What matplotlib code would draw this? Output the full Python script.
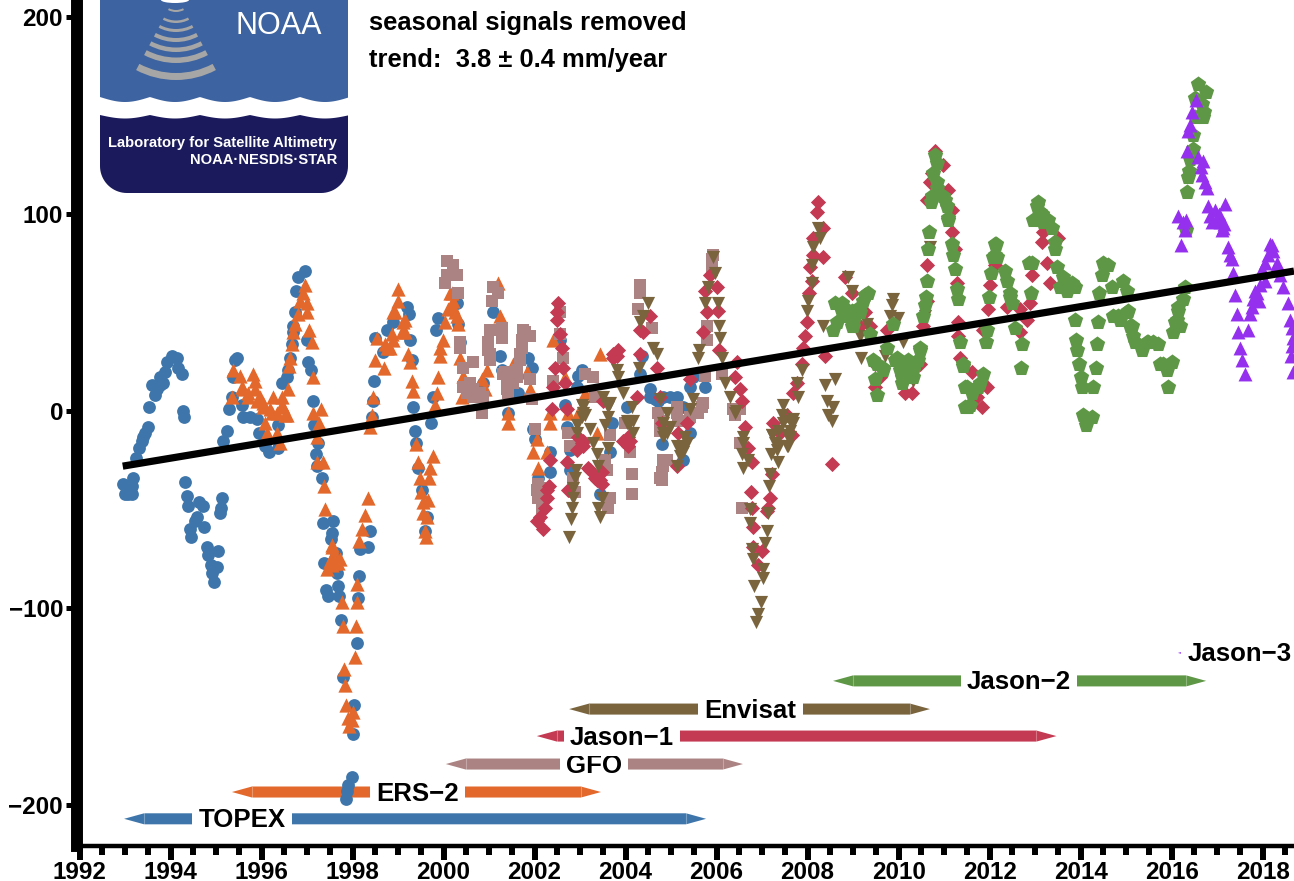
import numpy as np
import matplotlib
matplotlib.use('Agg')
import matplotlib.pyplot as plt
from matplotlib.patches import Polygon, Wedge, Ellipse

plt.rcParams['font.family'] = ['Liberation Sans', 'DejaVu Sans']
plt.rcParams['font.weight'] = 'bold'

# sea level series, year and mm
topex_x = [1992.96,1993.07,1993.00,1993.15,1993.15,1993.18,1993.24,1993.31,1993.37,1993.40,1993.44,1993.51,1993.53,1993.59,1993.66,1993.70,1993.77,1993.84,1993.77,1993.88,1993.92,1994.03,1994.14,1994.16,1994.25,1994.27,1994.30,1994.32,1994.36,1994.38,1994.63,1994.71,1994.58,1994.54,1994.43,1994.45,1994.74,1994.80,1995.04,1994.82,1994.89,1995.02,1994.91,1994.96,1995.09,1995.11,1995.13,1995.15,1995.24,1995.29,1995.35,1995.37,1995.42,1995.46,1995.57,1995.59,1995.75,1995.90,1995.95,1996.08,1996.16,1996.36,1996.36,1996.45,1996.56,1996.58,1996.63,1996.67,1996.69,1996.69,1996.74,1996.76,1996.80,1996.96,1997.00,1997.02,1997.09,1997.13,1997.15,1997.24,1997.20,1997.22,1997.33,1997.35,1997.57,1997.55,1997.53,1997.64,1997.37,1997.66,1997.42,1997.46,1997.68,1997.70,1997.75,1997.79,1998.03,1998.01,1997.99,1997.90,1997.88,1997.86,1998.10,1998.12,1998.14,1998.17,1998.34,1998.38,1998.43,1998.45,1998.47,1998.49,1998.67,1998.76,1998.89,1999.20,1999.24,1999.26,1999.31,1999.33,1999.37,1999.40,1999.44,1999.53,1999.64,1999.59,1999.73,1999.77,1999.84,1999.88,2000.30,2000.32,2000.36,2000.87,2001.02,2001.09,2001.24,2001.29,2001.42,2001.64,2001.86,2001.95,2001.97,2002.01,2002.08,2002.34,2002.34,2002.56,2002.67,2002.71,2002.78,2002.78,2002.93,2002.96,2003.04,2003.44,2003.66,2003.70,2004.03,2004.32,2004.36,2004.54,2004.65,2004.80,2004.98,2005.26,2005.26,2005.42,2005.42,2005.48,2005.75,2004.54,2004.71,2004.82,2005.13]
topex_y = [-37,-42,-42,-42,-38,-34,-24,-19,-15,-13,-11,-8,2,13,8,11,13,14,17,20,25,28,27,22,19,0,-3,-36,-43,-48,-46,-48,-54,-56,-60,-64,-59,-69,-71,-73,-78,-79,-82,-87,-52,-49,-44,-15,-10,1,7,17,26,27,3,-3,-3,-4,-11,-18,-21,-19,-7,14,17,21,27,34,40,43,50,61,68,71,36,25,21,5,-7,-16,-22,-28,-34,-57,-56,-62,-65,-72,-77,-82,-91,-94,-89,-94,-106,-135,-149,-164,-186,-190,-193,-197,-118,-95,-84,-70,-69,-61,-3,5,15,37,30,41,45,53,49,36,26,2,-10,-16,-29,-40,-54,-61,-6,7,41,47,55,44,35,14,41,50,28,21,-1,9,27,22,-9,-14,-34,-21,-31,36,3,-8,-20,-30,12,18,21,-42,-21,-6,2,19,28,11,6,-17,7,2,-25,-11,12,17,12,7,5,7,7]

ers2_x = [1995.35,1995.37,1995.53,1995.57,1995.81,1995.86,1995.70,1995.86,1995.97,1996.03,1996.23,1996.25,1996.45,1996.58,1996.47,1996.56,1996.08,1996.12,1996.34,1996.41,1996.60,1996.67,1996.63,1996.69,1996.80,1996.74,1996.85,1996.91,1996.96,1997.00,1997.00,1997.04,1997.11,1997.13,1997.13,1997.31,1997.26,1997.22,1997.22,1997.35,1997.37,1997.40,1997.55,1997.55,1997.62,1997.55,1997.44,1997.68,1997.77,1997.79,1997.81,1997.84,1997.86,1997.90,1997.92,1997.99,1998.01,1998.05,1998.08,1998.10,1998.10,1998.14,1998.21,1998.27,1998.34,1998.38,1998.43,1998.45,1998.49,1998.54,1998.69,1998.71,1998.82,1998.87,1998.89,1999.00,1999.00,1999.11,1999.15,1999.22,1999.26,1999.31,1999.33,1999.40,1999.44,1999.48,1999.51,1999.55,1999.55,1999.59,1999.62,1999.64,1999.66,1999.68,1999.70,1999.77,1999.81,1999.86,1999.88,1999.92,1999.92,1999.99,2000.03,2000.10,2000.14,2000.21,2000.25,2000.32,2000.36,2000.43,2000.41,2000.85,2000.91,2000.96,2001.20,2001.24,2001.42,2001.42,2001.53,2001.84,2001.90,2001.97,2002.05,2002.08,2002.27,2002.34,2002.34,2002.41,2002.67,2002.74,2002.96,2003.11,2003.37,2003.44,1995.59,1995.70,1995.90,1996.03,1996.19,1996.34,1996.52,1996.45,1998.76,1998.89,1999.09,1999.15,1998.93,2000.21,2000.30,2000.19,1997.57,1997.51,1997.62,1997.73]
ers2_y = [7,21,18,12,19,15,7,11,7,2,-1,7,7,11,2,-2,-6,-11,-11,-16,23,34,27,40,49,44,56,60,64,55,50,41,35,17,-1,1,-6,-13,-26,-26,-38,-50,-68,-69,-73,-78,-80,-77,-97,-109,-131,-139,-149,-156,-160,-157,-153,-125,-109,-97,-88,-66,-60,-53,-44,-8,-2,7,26,37,22,34,32,39,50,56,62,45,40,29,25,15,10,-17,-26,-34,-41,-46,-52,-61,-64,-54,-45,-34,-29,-23,3,9,17,28,32,36,45,52,60,56,50,44,27,18,7,16,11,21,65,48,-1,-6,24,20,11,-21,-14,-29,-21,-1,-6,36,17,-1,-1,9,-11,29,11,9,5,4,1,-1,-2,3,32,36,40,46,50,53,48,60,-73,-76,-77,-75]

gfo_x = [2000.08,2000.08,2000.03,2000.21,2000.30,2000.32,2000.36,2000.43,2000.47,2000.52,2000.58,2000.65,2000.65,2000.80,2000.85,2000.98,2001.02,2001.02,2001.07,2001.09,2001.20,2001.29,2001.29,2001.35,2001.40,2001.42,2001.62,2001.68,2001.73,2001.75,2001.90,2001.90,2001.95,2002.01,2002.12,2002.08,2002.16,2002.41,2002.56,2002.56,2002.63,2002.74,2002.78,2002.85,2002.89,2003.11,2003.29,2003.33,2003.55,2003.59,2003.62,2003.66,2003.66,2003.99,2004.10,2004.14,2004.14,2004.27,2004.32,2004.32,2004.58,2004.71,2004.76,2004.80,2004.80,2004.91,2005.13,2005.15,2005.59,2005.68,2005.75,2005.79,2005.79,2005.90,2005.90,2005.92,2006.12,2006.36,2006.41,2006.52,2006.52,2006.56,2000.43,2000.54,2000.65,2000.76,2000.87,2001.31,2001.46,2001.53,2001.40,2001.62,2001.68,2001.73,2001.79,2000.98,2001.02,2000.36,2002.05,2002.08,2005.13,2005.57,2005.42,2005.70,2004.82,2004.76,2004.82,2004.76]
gfo_y = [76,69,65,74,69,60,35,22,12,9,14,25,7,9,-1,31,26,41,56,63,60,42,37,20,14,9,17,29,36,41,38,16,6,-9,-39,-44,-49,15,50,39,27,-11,-18,-34,-41,19,17,7,-25,-30,-49,-12,-44,-6,-21,-32,-42,52,64,60,42,-1,-10,-31,-35,-25,2,-5,-1,2,18,36,43,73,77,79,19,1,-2,-16,1,-49,12,9,11,7,7,19,17,14,11,21,26,32,40,35,29,32,-40,-37,-1,-1,-3,4,-28,-34,-25,-5]

jason1_x = [2002.05,2002.12,2002.19,2002.27,2002.32,2002.34,2002.38,2002.41,2002.45,2002.49,2002.52,2002.60,2002.63,2002.67,2002.71,2002.71,2002.74,2003.04,2003.07,2003.18,2003.33,2003.44,2003.48,2003.51,2003.73,2003.81,2004.03,2004.05,2004.25,2004.32,2004.32,2004.38,2004.54,2004.69,2004.76,2004.80,2005.13,2005.15,2005.35,2005.42,2005.70,2005.75,2005.79,2005.86,2006.01,2006.03,2006.05,2006.41,2006.45,2006.52,2006.56,2006.63,2006.69,2006.78,2006.76,2006.78,2006.80,2006.80,2006.91,2007.00,2007.11,2007.13,2007.18,2007.22,2007.24,2007.40,2007.55,2007.66,2007.68,2007.77,2007.88,2007.90,2007.95,2007.99,2008.03,2008.05,2008.10,2008.12,2008.12,2008.21,2008.23,2008.34,2008.34,2008.38,2008.54,2008.82,2008.98,2009.16,2009.26,2009.37,2009.48,2009.48,2009.59,2009.75,2010.14,2010.30,2010.47,2010.54,2010.63,2010.63,2010.63,2010.69,2010.74,2010.80,2010.98,2011.09,2011.17,2011.17,2011.24,2011.29,2011.31,2011.31,2011.35,2011.62,2011.73,2011.84,2011.95,2011.86,2011.97,2012.01,2012.12,2012.38,2012.67,2012.67,2012.82,2012.89,2012.93,2013.15,2013.18,2013.26,2013.33,2013.51,2003.73,2003.84,2003.95,2004.10,2004.05,2003.22,2003.37,2003.48,2002.96,2003.07,2002.93,2002.49,2002.56,2002.23,2002.27]
jason1_y = [-56,-54,-60,-44,-38,-25,1,12,22,46,55,32,22,14,1,-26,-40,-16,-18,-29,-34,-35,-31,5,29,28,-17,-13,7,41,29,40,48,22,7,-6,-28,-11,-6,16,40,61,50,69,63,51,31,17,25,11,5,-8,-19,-26,-41,-49,-59,-69,-78,-71,-51,-49,-44,-32,-6,-11,-2,-12,9,14,24,32,38,45,60,73,66,79,88,101,106,93,78,28,-27,68,60,43,50,43,24,12,17,41,9,9,24,43,56,74,107,116,121,132,125,112,102,91,82,65,45,38,27,20,7,2,12,41,52,64,74,53,52,40,46,55,69,86,91,75,65,88,27,31,-15,-15,-18,-30,-35,-37,-13,-15,-20,50,39,-49,-40]

envisat_x = [2002.76,2002.80,2002.82,2002.85,2002.85,2002.89,2002.91,2002.93,2002.93,2003.04,2003.11,2003.22,2003.29,2003.37,2003.40,2003.40,2003.44,2003.48,2003.51,2003.55,2003.62,2003.62,2003.66,2003.81,2003.84,2003.95,2004.03,2004.14,2004.16,2004.30,2004.32,2004.38,2004.49,2004.60,2004.69,2004.76,2004.82,2004.91,2004.91,2005.13,2005.20,2005.26,2005.31,2005.42,2005.48,2005.59,2005.62,2005.75,2005.81,2005.92,2005.97,2006.03,2006.05,2006.08,2006.12,2006.19,2006.30,2006.41,2006.43,2006.58,2006.56,2006.69,2006.58,2006.74,2006.74,2006.78,2006.80,2006.82,2006.87,2006.91,2006.98,2007.02,2007.02,2007.07,2007.11,2007.13,2007.15,2007.18,2007.20,2007.22,2007.33,2007.35,2007.44,2007.46,2007.55,2007.62,2007.62,2007.68,2007.77,2007.79,2007.88,2007.99,2008.01,2008.10,2008.10,2008.12,2008.23,2008.27,2008.34,2008.38,2008.43,2008.45,2008.54,2008.56,2008.60,2008.89,2008.98,2009.16,2009.18,2009.31,2009.71,2009.82,2009.86,2009.88,2009.99,2010.10,2010.32,2010.58,2010.69,2007.22,2007.35,2007.55,2007.46,2007.68,2007.62,2007.35,2007.29,2007.57,2006.58,2003.07,2004.82,2005.13,2005.20,2005.35,2005.26,2004.98,2004.82,2004.10,2004.16,2004.03,2003.62,2003.07,2003.04]
envisat_y = [-64,-55,-49,-44,-39,-34,-30,-11,-7,3,-2,-9,-16,-22,-28,-49,-54,-44,7,-7,-3,-19,4,21,17,9,-6,2,-11,22,45,48,55,32,29,6,-11,-1,-11,-28,-20,-21,-13,1,6,27,31,55,63,78,70,55,43,37,27,14,7,-1,0,-13,-22,-25,-29,-50,-57,-70,-75,-89,-107,-103,-97,-85,-80,-67,-61,-52,-38,-32,-22,-12,-20,-26,-2,3,-18,-5,-13,-4,14,7,21,51,56,65,74,83,93,88,43,13,5,-2,-5,2,16,68,61,38,27,44,28,48,54,57,47,35,15,48,83,-12,-10,-12,-6,-6,-10,-18,-16,-18,-16,-1,-6,-18,-23,-16,-18,-8,-13,-6,-5,-5,2,2,-3]

jason2_x = [2008.56,2008.65,2008.76,2008.78,2008.98,2009.00,2009.15,2009.26,2009.37,2009.44,2009.48,2009.53,2009.66,2009.75,2009.88,2009.97,2010.08,2010.21,2010.32,2010.36,2010.47,2010.54,2010.58,2010.60,2010.63,2010.65,2010.67,2010.71,2010.76,2010.80,2010.85,2010.85,2011.02,2011.09,2011.17,2011.20,2011.24,2011.29,2011.31,2011.35,2011.42,2011.51,2011.53,2011.75,2011.86,2011.92,2011.95,2011.99,2012.03,2012.12,2012.14,2012.34,2012.45,2012.49,2012.56,2012.71,2012.69,2012.87,2012.91,2012.93,2013.06,2013.11,2013.18,2013.37,2013.44,2013.44,2013.48,2013.62,2013.84,2013.88,2013.90,2013.92,2013.97,2014.01,2014.03,2014.05,2014.12,2014.25,2014.27,2014.34,2014.36,2014.38,2014.41,2014.47,2014.49,2014.60,2014.69,2014.82,2014.93,2015.02,2015.05,2015.13,2015.20,2015.35,2015.48,2015.70,2015.81,2015.92,2016.01,2016.03,2016.08,2016.14,2016.25,2016.30,2016.32,2016.34,2016.36,2016.38,2016.41,2016.47,2016.47,2016.52,2016.52,2016.58,2016.67,2016.69,2016.71,2016.76,2008.60,2008.76,2008.87,2008.98,2009.04,2009.15,2009.22,2009.33,2009.92,2010.03,2010.08,2010.21,2010.32,2010.43,2010.47,2010.19,2009.53,2009.66,2010.74,2010.85,2010.98,2011.07,2011.09,2011.46,2011.62,2011.73,2011.79,2011.57,2011.46,2011.42,2012.12,2012.16,2012.07,2012.38,2012.45,2013.04,2013.15,2012.95,2013.29,2013.11,2013.55,2013.70,2013.81,2013.62,2013.88,2014.71,2014.87,2015.02,2015.09,2015.15,2015.46,2015.59,2015.75,2015.90,2016.12,2016.19,2016.14]
jason2_y = [41,45,55,53,51,43,50,59,39,26,16,8,22,32,44,27,17,26,17,24,32,48,54,58,66,82,91,106,121,130,126,113,107,98,85,79,72,62,57,35,23,12,2,12,19,35,41,58,70,79,85,71,60,55,42,34,22,75,60,75,106,101,96,93,86,82,73,63,64,46,36,31,24,17,12,-2,-7,-3,12,22,34,45,60,69,75,74,63,48,66,61,51,43,35,31,35,34,24,12,25,40,45,51,57,63,92,111,119,122,128,133,140,149,159,166,156,149,152,162,55,50,48,43,48,53,56,60,26,21,14,24,21,26,31,17,24,21,109,116,109,104,97,12,9,12,14,3,2,24,85,78,78,66,58,104,100,97,97,97,63,61,65,68,63,48,46,50,43,38,35,35,24,21,46,43,53]

jason3_x = [2016.14,2016.21,2016.25,2016.30,2016.32,2016.34,2016.36,2016.41,2016.45,2016.54,2016.58,2016.65,2016.67,2016.69,2016.74,2016.78,2016.80,2016.85,2016.89,2017.00,2017.07,2017.13,2017.18,2017.24,2017.29,2017.33,2017.35,2017.40,2017.44,2017.46,2017.51,2017.55,2017.62,2017.68,2017.73,2017.77,2017.79,2017.88,2017.95,2018.05,2018.16,2018.23,2018.32,2018.45,2018.56,2018.60,2018.65,2018.67,2018.67,2017.99,2018.05,2018.12,2018.21,2018.27,2018.38,2017.84,2017.91,2018.62,2018.65,2016.96,2017.04,2017.11,2017.16]
jason3_y = [99,84,96,92,97,132,142,145,152,158,129,124,120,127,116,113,104,99,96,98,96,93,105,83,79,77,70,59,49,40,32,26,19,41,49,53,57,60,64,75,85,81,75,63,55,46,42,37,20,72,66,79,84,72,69,61,56,28,33,102,100,92,95]

trend_x = [1992.95, 2018.69]
trend_y = [-28, 71]

# missions
mission_names = ['TOPEX', 'ERS\u22122', 'GFO', 'Jason\u22121', 'Envisat', 'Jason\u22122', 'Jason\u22123']
mission_start = [1992.98, 1995.35, 2000.05, 2002.05, 2002.76, 2008.56, 2016.14]
mission_end = [2005.77, 2003.46, 2006.58, 2013.47, 2010.69, 2016.76, 2019.2]
mission_level = [-207, -193.4, -179.2, -165, -151.3, -137, -122.8]
mission_label_x = [1995.57, 1999.42, 2003.31, 2003.92, 2006.75, 2012.65, 2017.49]

colors = ['#3e76ab', '#e3682b', '#ab8383', '#c43a52', '#7a643e', '#5e9745', '#9430ee']

year_ticks = list(range(1992, 2019, 2))
year_minor = list(np.arange(1992, 2019, 0.5))
mm_ticks = [-200, -100, 0, 100, 200]

W, H = 1294, 881
fig = plt.figure(figsize=(W/100, H/100), dpi=100)
ax = fig.add_axes([77/W, (H-846)/H, (W-77)/W, 846/H])

ax.set_xlim(1991.945, 2018.69)
ax.set_ylim(-220.8, 208.6)

for sp in ['top', 'right']:
    ax.spines[sp].set_visible(False)
ax.spines['left'].set_linewidth(8.6)
ax.spines['bottom'].set_linewidth(3.2)

ax.set_xticks(year_ticks)
ax.set_xticklabels([str(y) for y in year_ticks])
ax.set_xticks(year_minor, minor=True)
ax.set_yticks(mm_ticks)
ax.set_yticklabels(['\u2212200', '\u2212100', '0', '100', '200'])
ax.tick_params(axis='x', which='major', length=10, width=4.3, labelsize=17.5, pad=1)
ax.tick_params(axis='x', which='minor', length=6.5, width=4.3)
ax.tick_params(axis='y', which='major', length=8, width=3.6, labelsize=17.5, pad=2)

# mission arrows
head_len = 0.44
half_h = 2.8
for i in range(len(mission_names)):
    s, e, lv, c = mission_start[i], mission_end[i], mission_level[i], colors[i]
    ax.fill([s, s+head_len, e-head_len, e, e-head_len, s+head_len],
            [lv, lv+half_h, lv+half_h, lv, lv-half_h, lv-half_h], color=c, lw=0, zorder=1)
    for hx in [s+head_len, e-head_len]:
        ax.plot([hx, hx], [lv-half_h, lv+half_h], color='white', alpha=0.3, lw=0.8, zorder=1.1)
    ax.text(mission_label_x[i], lv-0.8, mission_names[i], ha='center', va='center', fontsize=18.6,
            zorder=2, bbox=dict(facecolor='white', edgecolor='none', pad=4.5))

# data, later missions sit on top
ax.scatter(topex_x, topex_y, s=85, c=colors[0], marker='o', linewidths=0, zorder=3)
ax.scatter(ers2_x, ers2_y, s=105, c=colors[1], marker='^', linewidths=0, zorder=3.1)
ax.scatter(gfo_x, gfo_y, s=74, c=colors[2], marker='s', linewidths=0, zorder=3.2)
ax.scatter(jason1_x, jason1_y, s=60, c=colors[3], marker='D', linewidths=0, zorder=3.3)
ax.scatter(envisat_x, envisat_y, s=90, c=colors[4], marker='v', linewidths=0, zorder=3.4)
ax.scatter(jason2_x, jason2_y, s=135, c=colors[5], marker='p', linewidths=0, zorder=3.5)
ax.scatter(jason3_x, jason3_y, s=100, c=colors[6], marker='^', linewidths=0, zorder=3.6)

ax.plot(trend_x, trend_y, color='black', lw=5.2, solid_capstyle='butt', zorder=4)

# logo and notes, in pixels
ov = fig.add_axes([0, 0, 1, 1], facecolor='none')
ov.set_xlim(0, W)
ov.set_ylim(H, 0)
ov.axis('off')

wx = np.linspace(100, 348, 250)
wave = np.abs(np.sin(np.pi*(wx-150)/50))
blue_pts = [(100, 0), (348, 0)] + list(zip(wx[::-1], 97+5*wave[::-1]))
ov.add_patch(Polygon(blue_pts, closed=True, fc='#3d63a0', ec='none'))

t = np.linspace(0, np.pi/2, 20)
navy_pts = list(zip(wx, 115+3.5*wave))
navy_pts += [(321+27*np.cos(a), 166+27*np.sin(a)) for a in t]
navy_pts += [(127-27*np.sin(a), 166+27*np.cos(a)) for a in t]
ov.add_patch(Polygon(navy_pts, closed=True, fc='#1a1a5c', ec='none'))

for r, w in [(17, 2), (28, 2.5), (37, 3), (47, 4), (57, 4.5), (68, 5.5), (85, 7)]:
    ov.add_patch(Wedge((176, -5), r, 62, 118, width=w, fc='#a6a6a6', ec='none'))
ov.add_patch(Ellipse((175, 0), 28, 6, fc='white', ec='none'))

ov.text(279, 26, 'NOAA', color='white', fontsize=22, fontweight='normal', ha='center', va='center')
ov.text(337, 143, 'Laboratory for Satellite Altimetry', color='white', fontsize=10.6, ha='right', va='center')
ov.text(337, 160, 'NOAA\u00b7NESDIS\u00b7STAR', color='white', fontsize=10.6, ha='right', va='center')

ov.text(369, 30, 'seasonal signals removed', fontsize=18.4, ha='left', va='baseline')
ov.text(369, 67, 'trend:  3.8 \u00b1 0.4 mm/year', fontsize=18.4, ha='left', va='baseline')

fig.savefig('out.png', dpi=100)
